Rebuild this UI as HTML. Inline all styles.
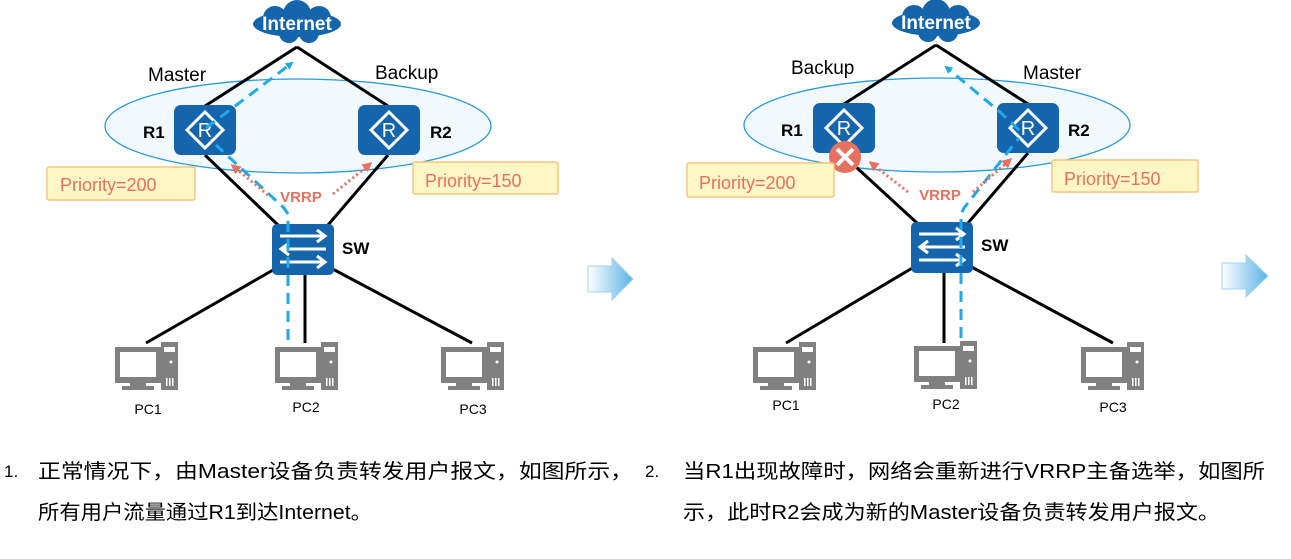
<!DOCTYPE html>
<html><head><meta charset="utf-8"><style>
html,body{margin:0;padding:0;background:#fff;}
svg{display:block;}
text{font-family:"Liberation Sans","Noto Sans CJK SC",sans-serif;}
</style></head><body>
<svg width="1291" height="559" viewBox="0 0 1291 559" xmlns="http://www.w3.org/2000/svg">
<defs>
<linearGradient id="ag" x1="0" x2="1"><stop offset="0" stop-color="#ffffff"/><stop offset="1" stop-color="#5ab2e6"/></linearGradient>
<g id="pc">
  <rect x="0" y="5" width="46" height="36" fill="#808080"/>
  <rect x="5" y="10" width="36" height="25" fill="#fff"/>
  <rect x="15" y="41" width="16" height="3" fill="#808080"/>
  <rect x="7" y="44" width="32" height="4" fill="#808080"/>
  <rect x="46" y="0" width="17" height="48" fill="#808080"/>
  <rect x="49" y="5" width="11" height="5" fill="#fff"/>
  <circle cx="56" cy="20" r="1.5" fill="#fff"/>
  <rect x="51" y="36" width="1.5" height="8" fill="#fff"/><rect x="54" y="36" width="1.5" height="8" fill="#fff"/><rect x="57" y="36" width="1.5" height="8" fill="#fff"/>
</g>
<g id="rt">
  <rect x="0" y="0" width="62" height="50" rx="7" fill="#1565ad"/>
  <polygon points="31,7 49,25 31,43 13,25" fill="none" stroke="#fff" stroke-width="3"/>
  <text x="31" y="32" font-size="20" fill="#fff" text-anchor="middle">R</text>
</g>
<g id="sw">
  <rect x="0" y="0" width="62" height="51" rx="5" fill="#1565ad"/>
  <g stroke="#fff" stroke-width="3" fill="none">
    <path d="M8 12H52M45 6L53 12L45 18"/>
    <path d="M54 25H10M17 19L9 25L17 31"/>
    <path d="M8 38H52M45 32L53 38L45 44"/>
  </g>
</g>
<g id="cloud">
  <ellipse cx="0" cy="2" rx="44" ry="13" fill="#1565ad"/>
  <circle cx="-22" cy="-4" r="12" fill="#1565ad"/>
  <circle cx="0" cy="-8" r="14" fill="#1565ad"/>
  <circle cx="22" cy="-4" r="12" fill="#1565ad"/>
  <circle cx="-8" cy="11" r="10" fill="#1565ad"/>
  <circle cx="12" cy="11" r="10" fill="#1565ad"/>
  <text x="0" y="8" font-size="19" font-weight="bold" fill="#fff" text-anchor="middle">Internet</text>
</g>
<marker id="ab" markerWidth="8" markerHeight="8" refX="6" refY="4" orient="auto" markerUnits="userSpaceOnUse"><path d="M0,0L8,4L0,8z" fill="#20a8e8"/></marker>
<marker id="ar" markerWidth="10" markerHeight="10" refX="7" refY="5" orient="auto" markerUnits="userSpaceOnUse"><path d="M0,0L10,5L0,10z" fill="#e8705e"/></marker>
</defs>

<!-- LEFT DIAGRAM -->
<ellipse cx="298" cy="126" rx="193" ry="47" fill="#f2f9fe" stroke="#2a9ad8" stroke-width="1.3"/>
<g stroke="#000" stroke-width="3">
<line x1="297" y1="47" x2="205" y2="106"/><line x1="297" y1="47" x2="388" y2="106"/>
<line x1="205" y1="155" x2="278" y2="225"/><line x1="388" y1="155" x2="328" y2="225"/>
<line x1="280" y1="266" x2="146" y2="343"/><line x1="305" y1="272" x2="305" y2="343"/><line x1="327" y1="266" x2="472" y2="343"/>
</g>
<use href="#cloud" x="297" y="22"/>
<use href="#rt" x="174" y="105"/><use href="#rt" x="358" y="105"/>
<use href="#sw" x="272" y="224"/>
<path d="M288,340V214L284,208L216,145" fill="none" stroke="#20a8e8" stroke-width="3" stroke-dasharray="11,7"/>
<path d="M206,128L292,63" fill="none" stroke="#20a8e8" stroke-width="3" stroke-dasharray="11,7" marker-end="url(#ab)"/>
<line x1="268" y1="195" x2="233" y2="166" stroke="#e8705e" stroke-width="3" stroke-dasharray="2,3" marker-end="url(#ar)"/>
<line x1="333" y1="194" x2="370" y2="164" stroke="#e8705e" stroke-width="3" stroke-dasharray="2,3" marker-end="url(#ar)"/>
<text x="301" y="202" font-size="15" font-weight="bold" fill="#e8705e" text-anchor="middle">VRRP</text>
<rect x="47" y="167" width="148" height="33" rx="2" fill="#fff6c6" stroke="#f5c77c" stroke-width="1.5"/>
<rect x="413" y="162" width="145" height="32" rx="2" fill="#fff6c6" stroke="#f5c77c" stroke-width="1.5"/>
<text x="60" y="191" font-size="18" fill="#e8705e">Priority=200</text>
<text x="425" y="187" font-size="18" fill="#e8705e">Priority=150</text>
<text x="148" y="81" font-size="19" fill="#000">Master</text>
<text x="375" y="79" font-size="19" fill="#000">Backup</text>
<text x="143" y="138" font-size="17" font-weight="bold">R1</text>
<text x="430" y="138" font-size="17" font-weight="bold">R2</text>
<text x="342" y="254" font-size="17" font-weight="bold">SW</text>
<use href="#pc" x="115" y="342"/><use href="#pc" x="275" y="342"/><use href="#pc" x="441" y="342"/>
<text x="148" y="414" font-size="14" text-anchor="middle">PC1</text>
<text x="306" y="412" font-size="14" text-anchor="middle">PC2</text>
<text x="473" y="414" font-size="14" text-anchor="middle">PC3</text>
<path d="M588,266H612V258L633,279L612,300V292H588Z" fill="url(#ag)" stroke="#9fd3f2" stroke-width="1"/>

<!-- RIGHT DIAGRAM -->
<ellipse cx="937" cy="125" rx="193" ry="47" fill="#f2f9fe" stroke="#2a9ad8" stroke-width="1.3"/>
<g stroke="#000" stroke-width="3">
<line x1="936" y1="45" x2="844" y2="104"/><line x1="936" y1="45" x2="1028" y2="104"/>
<line x1="856" y1="167" x2="917" y2="223"/><line x1="1028" y1="153" x2="968" y2="223"/>
<line x1="919" y1="264" x2="786" y2="343"/><line x1="944" y1="270" x2="944" y2="343"/><line x1="966" y1="264" x2="1113" y2="343"/>
</g>
<use href="#cloud" x="936" y="21"/>
<use href="#rt" x="813" y="103"/><use href="#rt" x="997" y="103"/>
<use href="#sw" x="911" y="222"/>
<circle cx="845" cy="157" r="16" fill="#e8705e"/>
<path d="M837,149L853,165M853,149L837,165" stroke="#fff" stroke-width="4"/>
<path d="M961,338V214L964,208L1019,138" fill="none" stroke="#20a8e8" stroke-width="3" stroke-dasharray="11,7"/>
<path d="M1019,130L1000,112L946,67" fill="none" stroke="#20a8e8" stroke-width="3" stroke-dasharray="11,7" marker-end="url(#ab)"/>
<line x1="908" y1="192" x2="871" y2="163" stroke="#e8705e" stroke-width="3" stroke-dasharray="2,3" marker-end="url(#ar)"/>
<line x1="973" y1="192" x2="1010" y2="160" stroke="#e8705e" stroke-width="3" stroke-dasharray="2,3" marker-end="url(#ar)"/>
<text x="940" y="200" font-size="15" font-weight="bold" fill="#e8705e" text-anchor="middle">VRRP</text>
<rect x="687" y="163" width="147" height="34" rx="2" fill="#fff6c6" stroke="#f5c77c" stroke-width="1.5"/>
<rect x="1052" y="160" width="146" height="32" rx="2" fill="#fff6c6" stroke="#f5c77c" stroke-width="1.5"/>
<text x="699" y="189" font-size="18" fill="#e8705e">Priority=200</text>
<text x="1064" y="185" font-size="18" fill="#e8705e">Priority=150</text>
<text x="791" y="74" font-size="19">Backup</text>
<text x="1023" y="79" font-size="19">Master</text>
<text x="781" y="136" font-size="17" font-weight="bold">R1</text>
<text x="1068" y="136" font-size="17" font-weight="bold">R2</text>
<text x="981" y="251" font-size="17" font-weight="bold">SW</text>
<use href="#pc" x="753" y="342"/><use href="#pc" x="914" y="341"/><use href="#pc" x="1081" y="342"/>
<text x="786" y="410" font-size="14" text-anchor="middle">PC1</text>
<text x="946" y="409" font-size="14" text-anchor="middle">PC2</text>
<text x="1113" y="412" font-size="14" text-anchor="middle">PC3</text>
<path d="M1222,263H1246V255L1268,276L1246,297V289H1222Z" fill="url(#ag)" stroke="#9fd3f2" stroke-width="1"/>

<!-- TEXT -->
<g font-size="20" fill="#000">
<text x="4" y="477" font-size="17">1.</text>
<text x="38" y="478" textLength="595" lengthAdjust="spacingAndGlyphs">正常情况下，由Master设备负责转发用户报文，如图所示，</text>
<text x="38" y="519" textLength="334" lengthAdjust="spacingAndGlyphs">所有用户流量通过R1到达Internet。</text>
<text x="645" y="477" font-size="17">2.</text>
<text x="683" y="478" textLength="582" lengthAdjust="spacingAndGlyphs">当R1出现故障时，网络会重新进行VRRP主备选举，如图所</text>
<text x="683" y="519" textLength="537" lengthAdjust="spacingAndGlyphs">示，此时R2会成为新的Master设备负责转发用户报文。</text>
</g>
</svg>
</body></html>
